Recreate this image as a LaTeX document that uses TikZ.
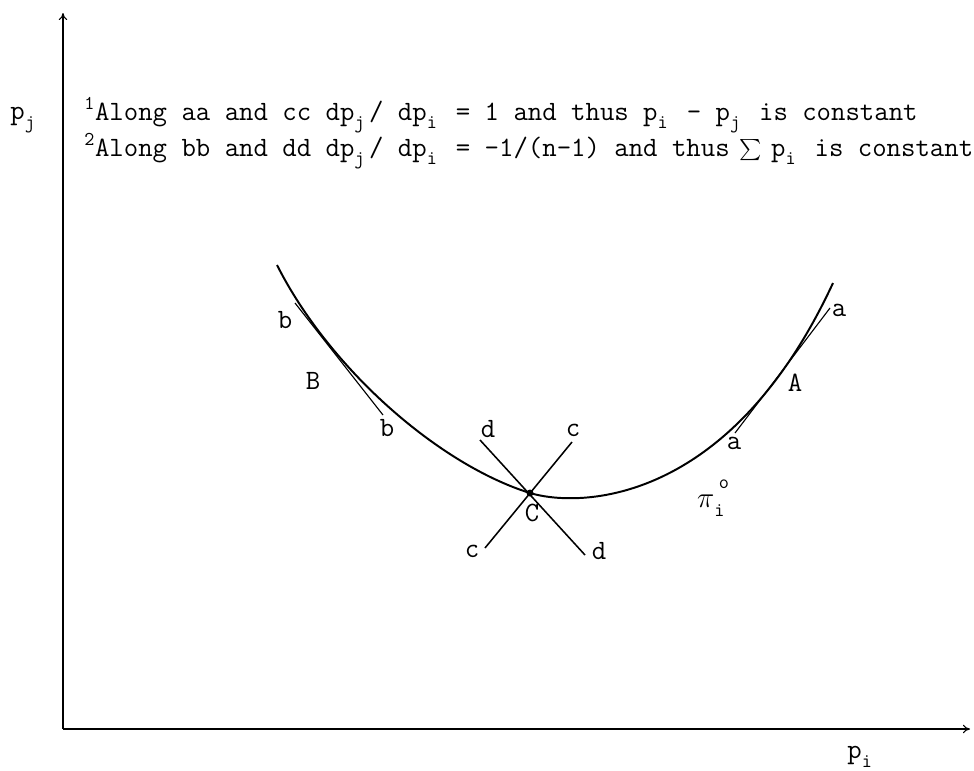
\documentclass[tikz,border=0pt]{standalone}
\usetikzlibrary{arrows.meta}

% lowered index that keeps one typewriter cell
\newcommand{\dn}[1]{\makebox[0.525em][l]{\raisebox{-0.7ex}{\fontsize{14}{14}\selectfont #1}}}
\newcommand{\bigsum}{\makebox[0.45em][c]{\raisebox{-0.45ex}{\scalebox{1.5}{$\sum$}}}}

\begin{document}
\begin{tikzpicture}[
  x=0.025cm, y=-0.025cm,
  >={To[length=5pt,width=6pt]},
  axis/.style={->, line width=0.8pt},
  curve/.style={line width=1.4pt},
  tangent/.style={line width=1.1pt},
  thintan/.style={line width=0.8pt},
  lbl/.style={font=\fontsize{19.9}{23}\selectfont\ttfamily, inner sep=0pt},
  note/.style={lbl, anchor=base west}
]
\useasboundingbox (0,0) rectangle (974,770);

% Axes
\coordinate (O) at (63,729);
\coordinate (ytop) at (63,13);
\coordinate (xend) at (970,729);
\draw[axis] (O) -- (ytop);
\draw[axis] (O) -- (xend);
\node[lbl] (pj) at (25,120) {p\dn{j}};
\node[lbl] (pi) at (862,757) {p\dn{i}};

% Notes
\node[note] (note1) at (84,120)
  {\textsuperscript{1}Along aa and cc dp\dn{j}/ dp\dn{i} = 1 and thus p\dn{i} - p\dn{j} is constant};
\node[note] (note2) at (84,156)
  {\textsuperscript{2}Along bb and dd dp\dn{j}/ dp\dn{i} = -1/(n-1) and thus \bigsum{} p\dn{i} is constant};

% Iso-profit curve
\coordinate (start) at (277,265);
\coordinate (C) at (530,493);
\coordinate (stop) at (833,283);
\draw[curve] (start) .. controls (330,370) and (440,465) .. (C)
                     .. controls (580,508) and (730,505) .. (stop);
\node[lbl] (piio) at (713,498) {$\pi$\dn{i}\llap{\raisebox{1.6ex}{\fontsize{14}{14}\selectfont o}}};

% Tangent at B
\coordinate (b1) at (295,303);
\coordinate (b2) at (383,415);
\draw[thintan] (b1) -- (b2);
\node[lbl] (bup) at (285,320) {b};
\node[lbl] (blo) at (387,428) {b};
\node[lbl] (B)   at (313,381) {B};

% Tangent at A
\coordinate (a1) at (735,433);
\coordinate (a2) at (830,308);
\draw[thintan] (a1) -- (a2);
\node[lbl] (aup) at (839,310) {a};
\node[lbl] (alo) at (734,443) {a};
\node[lbl] (A)   at (795,383) {A};

% Crossing lines at C
\coordinate (d1) at (480,440);
\coordinate (d2) at (585,555);
\coordinate (c1) at (572,442);
\coordinate (c2) at (485,548);
\draw[tangent] (d1) -- (d2);
\draw[tangent] (c1) -- (c2);
\fill (C) circle (3.5);
\node[lbl] (dup) at (488,429) {d};
\node[lbl] (cup) at (573,430) {c};
\node[lbl] (clo) at (472,551) {c};
\node[lbl] (dlo) at (599,551) {d};
\node[lbl] (Clab) at (532,513) {C};

\end{tikzpicture}
\end{document}
